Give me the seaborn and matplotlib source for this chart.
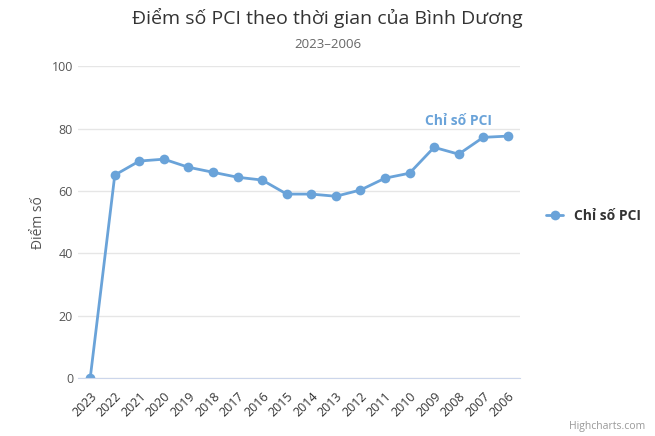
import matplotlib
matplotlib.use('Agg')
import matplotlib.pyplot as plt
import seaborn as sns
import pandas as pd

years = ['2023', '2022', '2021', '2020', '2019', '2018', '2017', '2016', '2015',
         '2014', '2013', '2012', '2011', '2010', '2009', '2008', '2007', '2006']
pci = [0, 65.1, 69.6, 70.2, 67.6, 66.0, 64.4, 63.5, 59.0,
       59.0, 58.3, 60.3, 64.1, 65.7, 74.0, 71.8, 77.2, 77.6]

sns.set_style('white')
plt.rcParams['font.family'] = ['Open Sans', 'DejaVu Sans']

df = pd.DataFrame({'x': range(len(years)), 'y': pci})
color = '#6aa3d9'

fig = plt.figure(figsize=(6.55, 4.36), dpi=100)
ax = fig.add_axes([0.119, 0.133, 0.675, 0.715])
sns.lineplot(data=df, x='x', y='y', ax=ax, color=color, linewidth=2,
             marker='o', markersize=7, markeredgewidth=0)

ax.set_ylim(0, 100)
ax.set_yticks([0, 20, 40, 60, 80, 100])
ax.set_xlim(-0.5, len(years) - 0.5)
ax.set_xticks(range(len(years)))
ax.set_xticklabels(years, rotation=-90 + 180 + 45 - 90, fontsize=9, color='#333333')
for lbl in ax.get_xticklabels():
    lbl.set_rotation(45)
    lbl.set_ha('right')
    lbl.set_rotation_mode('anchor')
ax.tick_params(axis='y', labelsize=9, colors='#555555', length=0)
ax.tick_params(axis='x', length=5, color='#ccd6eb')
ax.grid(axis='y', color='#e6e6e6', linewidth=1)
for s in ['top', 'right', 'left']:
    ax.spines[s].set_visible(False)
ax.spines['bottom'].set_color('#ccd6eb')
ax.set_xlabel('')
ax.set_ylabel('Điểm số', fontsize=10, color='#555555')

ax.text(len(years) - 3, pci[-2] + 3, 'Chỉ số PCI', color=color, fontsize=10,
        fontweight='bold', ha='center', va='bottom')

fig.text(0.5, 0.945, 'Điểm số PCI theo thời gian của Bình Dương', ha='center',
         fontsize=14, color='#333333')
fig.text(0.5, 0.89, '2023–2006', ha='center', fontsize=9.5, color='#666666')

ax.plot([], [], color=color, linewidth=2, marker='o', markersize=7,
        markeredgewidth=0, label='Chỉ số PCI')
handles, labels = ax.get_legend_handles_labels()
fig.legend(handles[-1:], labels[-1:], loc='center left', bbox_to_anchor=(0.815, 0.505),
           frameon=False, prop={'size': 10, 'weight': 'bold'}, labelcolor='#333333',
           handlelength=1.2)

fig.text(0.985, 0.015, 'Highcharts.com', ha='right', fontsize=7.5, color='#999999')
fig.savefig('out.png', dpi=100)
